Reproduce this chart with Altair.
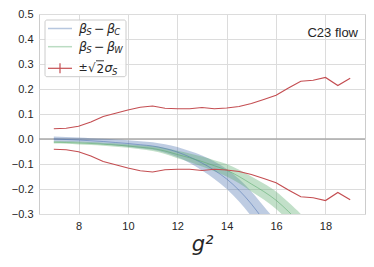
import altair as alt
import pandas as pd

# ---- data ----
g2_band = [7, 7.5, 8, 8.5, 9, 9.5, 10, 10.5, 11, 11.5, 12, 12.5, 13, 13.5,
           14, 14.5, 15, 15.5, 16, 16.5, 17, 17.5]
blue_center = [0.000, -0.002, -0.004, -0.007, -0.010, -0.014, -0.018, -0.023,
               -0.028, -0.038, -0.052, -0.072, -0.096, -0.125, -0.160, -0.205,
               -0.260, -0.325, -0.390, -0.460, -0.540, -0.620]
blue_half = [0.010, 0.010, 0.010, 0.010, 0.011, 0.012, 0.013, 0.014, 0.015,
             0.017, 0.020, 0.024, 0.030, 0.035, 0.040, 0.045, 0.050, 0.056,
             0.062, 0.068, 0.075, 0.080]
green_center = [-0.013, -0.014, -0.016, -0.018, -0.021, -0.024, -0.028, -0.033,
                -0.038, -0.048, -0.062, -0.075, -0.090, -0.107, -0.125, -0.150,
                -0.180, -0.210, -0.245, -0.290, -0.340, -0.400]
green_half = [0.005, 0.005, 0.006, 0.006, 0.006, 0.007, 0.007, 0.008, 0.010,
              0.012, 0.015, 0.017, 0.020, 0.022, 0.025, 0.027, 0.030, 0.032,
              0.035, 0.037, 0.040, 0.043]

g2_sigma = [7, 7.5, 8, 8.5, 9, 9.5, 10, 10.5, 11, 11.5, 12, 12.5, 13, 13.5,
            14, 14.5, 15, 15.5, 16, 16.5, 17, 17.5, 18, 18.5, 19]
sigma = [0.041, 0.043, 0.051, 0.068, 0.090, 0.103, 0.116, 0.127, 0.132, 0.123,
         0.121, 0.121, 0.126, 0.121, 0.124, 0.130, 0.142, 0.158, 0.175, 0.204,
         0.231, 0.235, 0.246, 0.214, 0.243]

x_ticks = [8, 10, 12, 14, 16, 18]
y_ticks = [-0.3, -0.2, -0.1, 0.0, 0.1, 0.2, 0.3, 0.4, 0.5]

BLUE = "#4C72B0"
GREEN = "#55A868"
RED = "#C44E52"
TXT = "#262626"

bands = pd.DataFrame({
    "g2": g2_band * 2,
    "c": blue_center + green_center,
    "lo": [c - h for c, h in zip(blue_center, blue_half)] + [c - h for c, h in zip(green_center, green_half)],
    "hi": [c + h for c, h in zip(blue_center, blue_half)] + [c + h for c, h in zip(green_center, green_half)],
    "s": ["C"] * len(g2_band) + ["W"] * len(g2_band),
})
sig = pd.DataFrame({
    "g2": g2_sigma * 2,
    "v": sigma + [-v for v in sigma],
    "sign": ["+"] * len(sigma) + ["-"] * len(sigma),
})
one = pd.DataFrame({"a": [0]})

xs = alt.Scale(domain=[6.4, 19.6], nice=False, zero=False)
ys = alt.Scale(domain=[-0.3, 0.5], nice=False, zero=False)
col = alt.Scale(domain=["C", "W"], range=[BLUE, GREEN])

xax = alt.Axis(values=x_ticks, title="g²", titleFontSize=21, titleFontStyle="italic",
               titleFontWeight="normal", titleFont="DejaVu Sans", titleColor=TXT, titlePadding=2)
yax = alt.Axis(values=y_ticks, format=".1f", title=None, labelOverlap=False)

zero = alt.Chart(one).mark_rule(color="#aaaaaa", strokeWidth=1.7).encode(
    y=alt.Y(datum=0, scale=ys, axis=yax))

area = alt.Chart(bands).mark_area(opacity=0.36, clip=True, interpolate="monotone").encode(
    x=alt.X("g2:Q", scale=xs, axis=xax),
    y=alt.Y("lo:Q", scale=ys, axis=yax),
    y2="hi:Q",
    color=alt.Color("s:N", scale=col, legend=None),
    detail="s:N",
)
center = alt.Chart(bands).mark_line(strokeWidth=0.9, opacity=0.6, clip=True, interpolate="monotone").encode(
    x=alt.X("g2:Q", scale=xs, axis=xax),
    y=alt.Y("c:Q", scale=ys, axis=yax),
    color=alt.Color("s:N", scale=col, legend=None),
    detail="s:N",
)
red = alt.Chart(sig).mark_line(color=RED, strokeWidth=1.2, clip=True).encode(
    x=alt.X("g2:Q", scale=xs, axis=xax),
    y=alt.Y("v:Q", scale=ys, axis=yax),
    detail="sign:N",
)


def txt(s, x, y, size=12.5, style="italic", font="DejaVu Sans"):
    return alt.Chart(one).mark_text(text=s, align="left", baseline="middle", fontSize=size,
                                    fontStyle=style, font=font, color=TXT).encode(
        x=alt.value(x), y=alt.value(y))


def hline(x1, x2, y, color, opacity=1.0, width=1.5):
    return alt.Chart(one).mark_rule(color=color, opacity=opacity, strokeWidth=width).encode(
        x=alt.value(x1), x2=alt.value(x2), y=alt.value(y))


legend_box = alt.Chart(one).mark_rect(fill="white", fillOpacity=0.85, stroke="#cccccc",
                                      strokeWidth=1, cornerRadius=2).encode(
    x=alt.value(6), x2=alt.value(87), y=alt.value(6), y2=alt.value(62.7))

y1, y2, y3 = 14.5, 32.7, 54.3
legend_layers = [
    legend_box,
    hline(9, 33, y1, BLUE, 0.4),
    hline(9, 33, y2, GREEN, 0.4),
    hline(9, 33, y3, RED, 1.0, 1.2),
    alt.Chart(one).mark_rule(color=RED, strokeWidth=1.2).encode(
        x=alt.value(21), y=alt.value(y3 - 5), y2=alt.value(y3 + 5)),
    txt("β", 40, y1), txt("S", 47.3, y1 + 3.5, 8.5), txt("−", 55, y1, 12.5, "normal"),
    txt("β", 68, y1), txt("C", 75.3, y1 + 3.5, 8.5),
    txt("β", 40, y2), txt("S", 47.3, y2 + 3.5, 8.5), txt("−", 55, y2, 12.5, "normal"),
    txt("β", 68, y2), txt("W", 75.3, y2 + 3.5, 8.5),
    txt("±", 39.5, y3, 11, "normal"), txt("√", 49, y3, 12, "normal"),
    txt("2", 57.5, y3 + 0.5, 12, "normal"),
    hline(57, 65, y3 - 7.5, TXT, 1.0, 0.9),
    txt("σ", 65.5, y3), txt("S", 73, y3 + 3.5, 8.5),
]

label = alt.Chart(one).mark_text(text="C23 flow", align="right", baseline="alphabetic",
                                 fontSize=13, font="Liberation Sans", color=TXT).encode(
    x=alt.value(319), y=alt.value(23))

chart = alt.layer(zero, area, center, red, label, *legend_layers).properties(
    width=326, height=200,
    autosize=alt.AutoSizeParams(type="none"),
    padding={"left": 31, "top": 6, "right": 1, "bottom": 45},
).configure_view(stroke="#cccccc", strokeWidth=1).configure_axis(
    grid=True, gridColor="#dcdcdc", gridWidth=1, domain=False, ticks=False,
    labelFont="Liberation Sans", labelFontSize=11, labelColor=TXT, labelPadding=6,
)

chart.save("out.html", embed_options={"renderer": "svg", "actions": False})
